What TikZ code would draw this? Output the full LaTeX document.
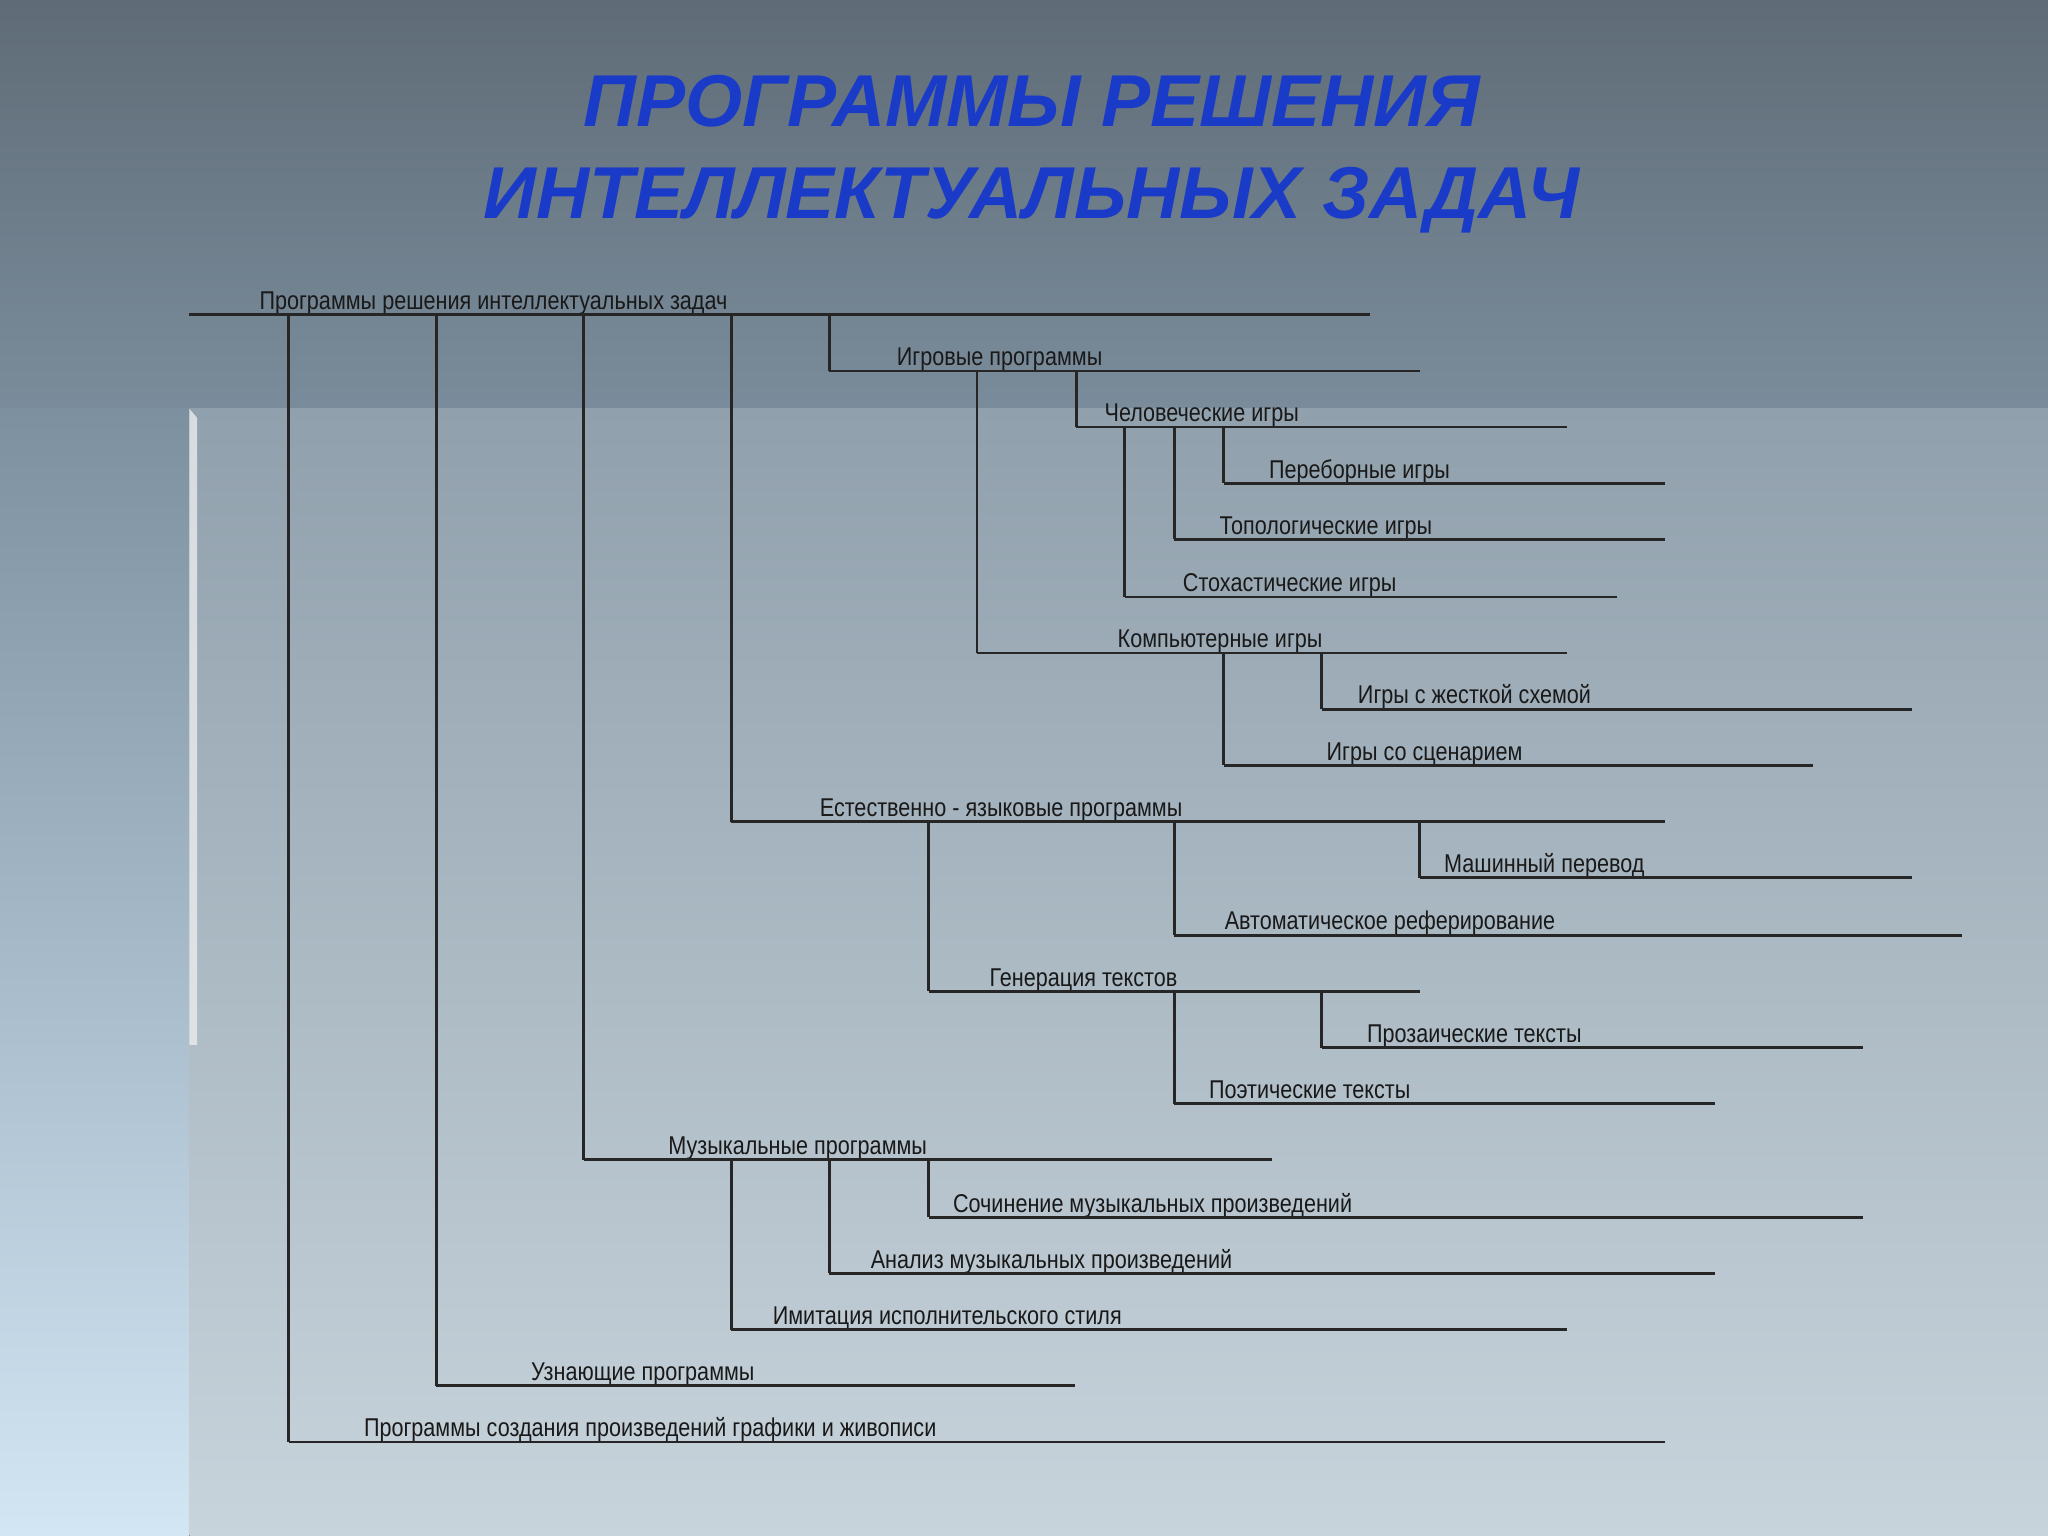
\documentclass[tikz,border=0pt]{standalone}
\usepackage{fontspec}
\setmainfont{Liberation Sans}
\newfontfamily\narrowf[FakeStretch=0.84]{Liberation Sans}
\definecolor{ttl}{HTML}{1A3BC8}
\begin{document}
\begin{tikzpicture}[x=0.01cm,y=-0.01cm,
  lab/.style={anchor=base west,inner sep=0pt,font=\narrowf\fontsize{5.6pt}{6pt}\selectfont,text=black!90},
  ln/.style={draw=black!85,line width=0.6pt}]
\useasboundingbox (0,0) rectangle (1568,1176);
\shade[top color=black!20!gray!60!blue!40!gray, bottom color=gray!80!blue!30!white] (0,0) rectangle (1568,1176);
\fill[top color={rgb,255:red,95;green,108;blue,119}, bottom color={rgb,255:red,122;green,140;blue,155}] (0,0) rectangle (1568,313);
\fill[top color={rgb,255:red,124;green,144;blue,160}, bottom color={rgb,255:red,210;green,230;blue,244}] (0,313) rectangle (145,1176);
\fill[top color={rgb,255:red,144;green,160;blue,172}, bottom color={rgb,255:red,200;green,212;blue,220}] (145,313) rectangle (1568,1176);
\fill[white!85!gray,opacity=0.8] (145,313) -- (151,320) -- (151,800) -- (145,800) -- cycle;
\node[font=\bfseries\itshape\fontsize{16pt}{20pt}\selectfont,text=ttl,align=center] (title) at (790,118) {ПРОГРАММЫ РЕШЕНИЯ\\ИНТЕЛЛЕКТУАЛЬНЫХ ЗАДАЧ};
\foreach \n/\y/\xs/\xe/\lx/\t in {
 r/241/145/1049/198/Программы решения интеллектуальных задач,
 a/284/635/1087/686/Игровые программы,
 b/327/824/1200/845/Человеческие игры,
 c/370/937/1275/971/Переборные игры,
 d/413/899/1275/933/Топологические игры,
 e/457/861/1238/905/Стохастические игры,
 f/500/748/1200/855/Компьютерные игры,
 g/543/1012/1464/1039/Игры с жесткой схемой,
 h/586/937/1388/1015/Игры со сценарием,
 i/629/560/1275/627/Естественно - языковые программы,
 j/672/1087/1464/1105/Машинный перевод,
 k/716/899/1502/937/Автоматическое реферирование,
 l/759/711/1087/757/Генерация текстов,
 m/802/1012/1426/1046/Прозаические тексты,
 n/845/899/1313/925/Поэтические тексты,
 o/888/447/974/511/Музыкальные программы,
 p/932/711/1426/729/Сочинение музыкальных произведений,
 q/975/635/1313/666/Анализ музыкальных произведений,
 s/1018/560/1200/591/Имитация исполнительского стиля,
 t/1061/334/823/406/Узнающие программы,
 u/1104/221/1275/278/Программы создания произведений графики и живописи}
{\node[lab] (\n) at (\lx,\y-4) {\t};
 \draw[ln] (\xs,\y) -- (\xe,\y);}
\foreach \x/\ya/\yb in {221/241/1104,334/241/1061,447/241/888,560/241/629,635/241/284,
 748/284/500,824/284/327,861/327/457,899/327/413,937/327/370,937/500/586,1012/500/543,
 711/629/759,899/629/716,1087/629/672,899/759/845,1012/759/802,
 560/888/1018,635/888/975,711/888/932}
 \draw[ln] (\x,\ya) -- (\x,\yb);
\end{tikzpicture}
\end{document}
